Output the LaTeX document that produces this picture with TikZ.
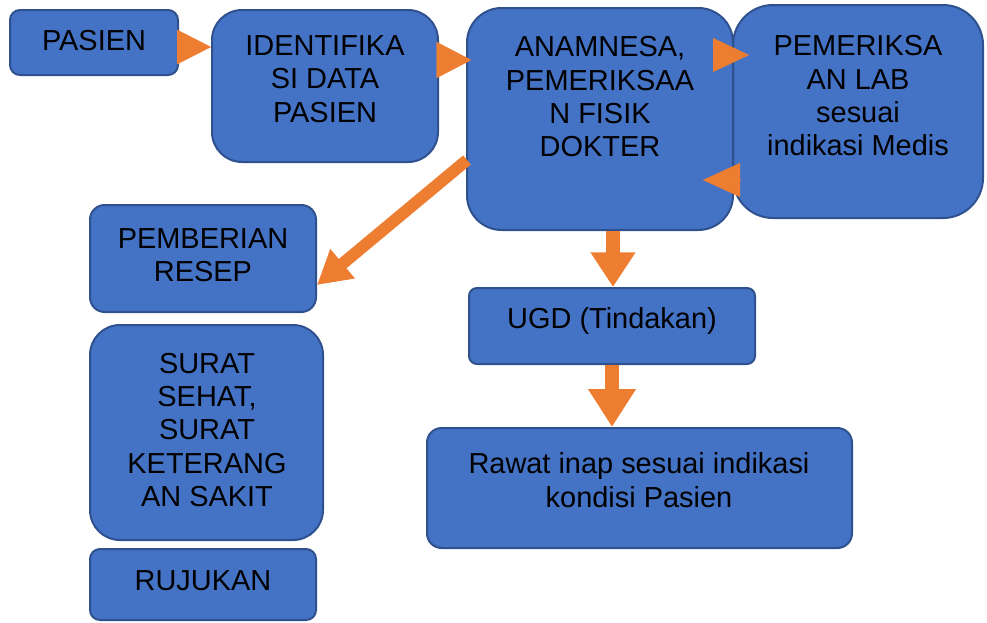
\documentclass[tikz,border=0pt]{standalone}
\usepackage{fontspec}
\setmainfont{Liberation Sans}
\usetikzlibrary{arrows.meta,calc}
\definecolor{boxfill}{HTML}{4472C4}
\definecolor{boxline}{HTML}{2F528F}
\definecolor{arr}{HTML}{ED7D31}
\tikzset{
  box/.style={draw=boxline, fill=boxfill, line width=1.5pt, inner sep=0pt},
  txt/.style={align=center, font=\fontsize{21.7}{25}\selectfont, text=black, inner sep=0pt},
  tri/.style={draw=arr, line width=0.1pt},
  shaftarrow/.style={draw=arr}
}
\begin{document}
\begin{tikzpicture}[x=0.75pt,y=-0.75pt]
\useasboundingbox (0,0) rectangle (987,622);
% boxes
\node[box, minimum width=126pt, minimum height=48.75pt, rounded corners=7.5pt] (pasien) at (94,42.5) {};
\node[box, minimum width=169.5pt, minimum height=114pt, rounded corners=22.5pt] (ident) at (325,86) {};
\node[box, minimum width=187.5pt, minimum height=159.75pt, rounded corners=30pt] (lab) at (858,111.5) {};
\node[box, minimum width=199.5pt, minimum height=166.5pt, rounded corners=26pt] (anam) at (600,119) {};
\node[box, minimum width=169.5pt, minimum height=80.25pt, rounded corners=11pt] (resep) at (203,258.5) {};
\node[box, minimum width=174.75pt, minimum height=161.25pt, rounded corners=22.5pt] (surat) at (206.5,432.5) {};
\node[box, minimum width=169.5pt, minimum height=53.25pt, rounded corners=7.5pt] (rujukan) at (203,584.5) {};
\node[box, minimum width=214.5pt, minimum height=57pt, rounded corners=6pt] (ugd) at (612,326) {};
\node[box, minimum width=318.75pt, minimum height=90pt, rounded corners=11pt] (rawat) at (639.5,488) {};
% texts
\node[txt] (pasien-t) at (94,41) {PASIEN};
\node[txt] (ident-t) at (325,79) {IDENTIFIKA\\SI DATA\\PASIEN};
\node[txt] (anam-t) at (600,97) {ANAMNESA,\\PEMERIKSAA\\N FISIK\\DOKTER};
\node[txt] (lab-t) at (858,96) {PEMERIKSA\\AN LAB\\sesuai\\indikasi Medis};
\node[txt] (resep-t) at (203,255) {PEMBERIAN\\RESEP};
\node[txt] (surat-t) at (207,430) {SURAT\\SEHAT,\\SURAT\\KETERANG\\AN SAKIT};
\node[txt] (rujukan-t) at (203,581) {RUJUKAN};
\node[txt] (ugd-t) at (612,321) {UGD (Tindakan)};
\node[txt] (rawat-t) at (639,480) {Rawat inap sesuai indikasi\\kondisi Pasien};
% connectors
\draw[tri, -{Triangle[length=25.5pt,width=26pt]}] (pasien.east |- 0,47) -- (ident.west |- 0,47);
\draw[tri, -{Triangle[length=26pt,width=27pt]}] (ident.east |- 0,60) -- ([xshift=4pt]anam.west |- 0,60);
\coordinate (a3s) at (714,55);
\draw[tri, -{Triangle[length=27pt,width=25.5pt]}] (a3s) -- (a3s -| lab.west) -- ++(17,0);
\coordinate (a4s) at (740,180);
\draw[tri, -{Triangle[length=27.75pt,width=25.5pt]}] (a4s) -- ++(-37,0);
\coordinate (a5s) at (467,160);
\draw[shaftarrow, line width=9pt, -{Triangle[length=25pt,width=27pt]}] (a5s) -- (resep.east |- 0,285);
\draw[shaftarrow, line width=10pt, -{Triangle[length=26pt,width=32pt]}] (anam.south -| 613,0) -- (ugd.north -| 613,0);
\draw[shaftarrow, line width=10.5pt, -{Triangle[length=28.5pt,width=34pt]}] (ugd.south) -- (rawat.north -| ugd.south);
\end{tikzpicture}
\end{document}
